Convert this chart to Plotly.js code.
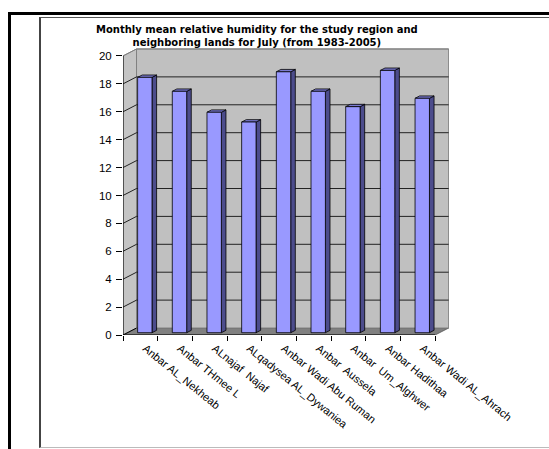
<!DOCTYPE html>
<html><head><meta charset="utf-8">
<script src="https://cdn.plot.ly/plotly-3.0.1.min.js"></script>
<style>
body{margin:0;background:#fff;overflow:hidden;}
#outer{position:absolute;left:8px;top:12px;width:700px;height:600px;border-top:3px solid #000;border-left:3px solid #000;}
#inner{position:absolute;left:39px;top:17px;width:700px;height:429px;border-top:1.5px solid #555;border-left:2px solid #444;border-bottom:1px solid #bbb;}
#chart{position:absolute;left:0;top:0;width:549px;height:449px;}
</style>
</head><body>
<div id="outer"></div><div id="inner"></div><div id="chart"></div>
<script>
const categories = ["Anbar AL_Nekheab","Anbar THmee L","ALnajaf  Najaf","ALqadysea AL_Dywaniea","Anbar Wadi Abu Ruman","Anbar  Aussela","Anbar  Um_Alghwer","Anbar Hadithaa","Anbar Wadi AL_Ahrach"];
const humidity = [18.3, 17.3, 15.8, 15.1, 18.7, 17.3, 16.2, 18.8, 16.8];
const yTicks = [0,2,4,6,8,10,12,14,16,18,20];
const titleText = "Monthly mean relative humidity for the study region and<br>neighboring lands for July (from 1983-2005)";

// 3D depth offsets in axis units
const DX = 0.39, DY = 0.5;
const F1 = 0.33, F2 = 0.67;   // bar depth span
const BW = 0.415;             // bar width
const n = categories.length;
const x0 = -0.5, x1 = n - 0.5, yTop = yTicks[yTicks.length-1];

function P(pts){ return 'M' + pts.map(p => p[0] + ',' + p[1]).join('L') + 'Z'; }
const shapes = [];
// floor
shapes.push({type:'path', xref:'x', yref:'y', layer:'below', path:P([[x0,0],[x1,0],[x1+DX,DY],[x0+DX,DY]]), fillcolor:'#808080', line:{color:'#555', width:0.8}});
// left wall
shapes.push({type:'path', xref:'x', yref:'y', layer:'below', path:P([[x0,0],[x0,yTop],[x0+DX,yTop+DY],[x0+DX,DY]]), fillcolor:'#c4c4c4', line:{color:'#777', width:0.8}});
// back wall
shapes.push({type:'path', xref:'x', yref:'y', layer:'below', path:P([[x0+DX,DY],[x1+DX,DY],[x1+DX,yTop+DY],[x0+DX,yTop+DY]]), fillcolor:'#c0c0c0', line:{color:'#808080', width:1}});
// gridlines
yTicks.forEach(t => {
  if (t === 0) {
    shapes.push({type:'line', xref:'x', yref:'y', layer:'below', x0:x0, y0:0, x1:x0+DX, y1:DY, line:{color:'#000', width:1}});
  } else {
    shapes.push({type:'path', xref:'x', yref:'y', layer:'below', path:'M'+x0+','+t+'L'+(x0+DX)+','+(t+DY)+'L'+(x1+DX)+','+(t+DY), line:{color:(t===yTop?'#808080':'#222'), width:1}});
  }
});
// bar sides and tops
humidity.forEach((v, i) => {
  const a = i - BW/2, b = i + BW/2;
  shapes.push({type:'path', xref:'x', yref:'y', layer:'below',
    path:P([[b+F1*DX, F1*DY],[b+F2*DX, F2*DY],[b+F2*DX, v+F2*DY],[b+F1*DX, v+F1*DY]]),
    fillcolor:'#4c4c8c', line:{color:'#000', width:0.8}});
  shapes.push({type:'path', xref:'x', yref:'y', layer:'below',
    path:P([[a+F1*DX, v+F1*DY],[b+F1*DX, v+F1*DY],[b+F2*DX, v+F2*DY],[a+F2*DX, v+F2*DY]]),
    fillcolor:'#7a7ad0', line:{color:'#000', width:0.8}});
});
// front axis lines
shapes.push({type:'line', xref:'x', yref:'y', x0:x0, y0:0, x1:x0, y1:yTop, line:{color:'#000', width:1}});
shapes.push({type:'line', xref:'x', yref:'y', x0:x0, y0:0, x1:x1, y1:0, line:{color:'#000', width:1}});

const trace = {
  type:'bar', x:categories, y:humidity, base:F1*DY, offset:-BW/2 + F1*DX, width:BW,
  marker:{color:'#9999ff', line:{color:'#000', width:0.8}}, hoverinfo:'skip'
};

const layout = {
  width:549, height:449, autosize:false,
  margin:{l:123, r:100, t:48, b:114, pad:0},
  paper_bgcolor:'rgba(0,0,0,0)', plot_bgcolor:'rgba(0,0,0,0)',
  showlegend:false,
  font:{family:'Liberation Sans, Arial, sans-serif', color:'#000'},
  annotations:[{text:titleText, xref:'paper', yref:'paper', x:(257-123)/326, y:(335-35.5)/287,
    xanchor:'center', yanchor:'middle', showarrow:false, align:'center',
    font:{family:'DejaVu Sans, sans-serif', size:10, color:'#000', weight:'bold'}}],
  xaxis:{type:'category', categoryarray:categories, range:[-0.5, n-0.5+0.4], autorange:false,
    tickson:'boundaries', ticks:'outside', ticklen:5, tickcolor:'#000', tickwidth:1,
    showgrid:false, zeroline:false, showline:false, tickangle:39,
    ticklabelshift:5, ticklabelstandoff:4,
    tickfont:{size:11, color:'#000'}},
  yaxis:{range:[0, 20.57], autorange:false, tickvals:yTicks, ticks:'outside', ticklen:6, tickcolor:'#000', tickwidth:1,
    showgrid:false, zeroline:false, showline:false, tickfont:{size:11.5, color:'#000'}, ticklabelstandoff:2},
  shapes:shapes,
  bargap:0
};
Plotly.newPlot('chart', [trace], layout, {displayModeBar:false, staticPlot:true});
</script>
</body></html>
